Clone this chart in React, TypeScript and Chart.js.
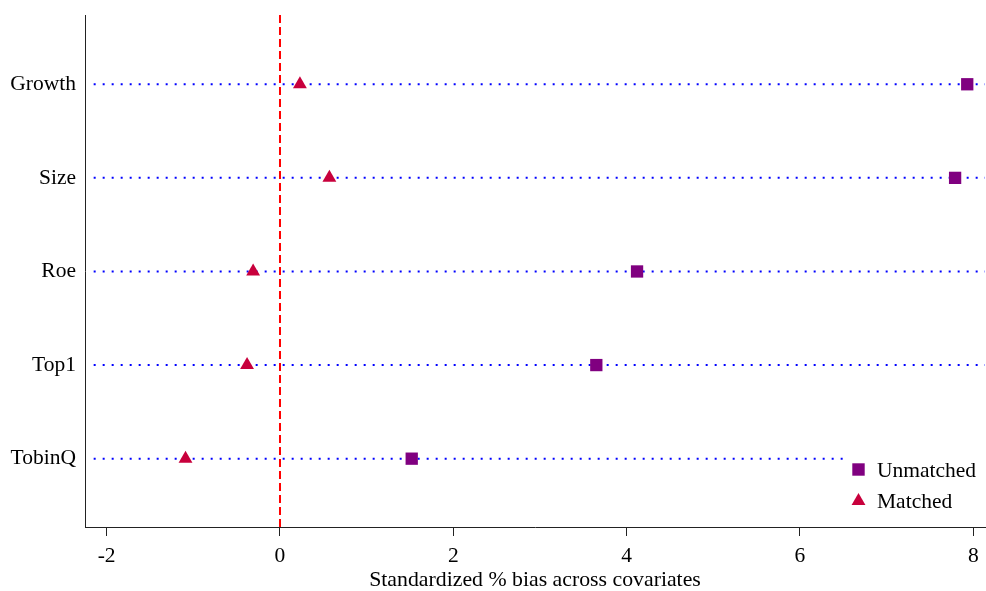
import React, { useEffect, useRef } from "react";
import { Chart, registerables } from "chart.js";

Chart.register(...registerables);

// ---- data ----
const categories = ["Growth", "Size", "Roe", "Top1", "TobinQ"];
const unmatched = [7.93, 7.79, 4.12, 3.65, 1.52];
const matched = [0.23, 0.57, -0.31, -0.38, -1.09];
const xTicks = [-2, 0, 2, 4, 6, 8];
const xMin = -2.25;
const xMax = 8.135;
const yMin = 0.27;
const yMax = 5.74;
const guideStart = -2.15;
const zeroLine = 0;
const xTitle = "Standardized % bias across covariates";
const legendLabels = ["Unmatched", "Matched"];

const FONT = "'Liberation Serif', 'Times New Roman', serif";
const PURPLE = "#800080";
const CRIMSON = "#C8003C";
const FS = 21.5;

const yOf = (i: number) => categories.length - i;

const insetLegend = {
  id: "insetLegend",
  afterDatasetsDraw(chart: any) {
    const { ctx, chartArea } = chart;
    const right = chartArea.right;
    const bottom = chartArea.bottom;
    ctx.save();
    ctx.fillStyle = "#ffffff";
    ctx.fillRect(right - 141, bottom - 75, 142, 66);
    const mx = right - 126.5;
    // square
    const sy = bottom - 57.5;
    ctx.fillStyle = PURPLE;
    ctx.fillRect(mx - 6.2, sy - 6.2, 12.4, 12.4);
    // triangle
    const ty = bottom - 26;
    const r = 8;
    ctx.fillStyle = CRIMSON;
    ctx.beginPath();
    ctx.moveTo(mx, ty - r);
    ctx.lineTo(mx + r * Math.sin((2 * Math.PI) / 3), ty + r / 2);
    ctx.lineTo(mx - r * Math.sin((2 * Math.PI) / 3), ty + r / 2);
    ctx.closePath();
    ctx.fill();
    // text
    ctx.fillStyle = "#000";
    ctx.font = `${FS}px ${FONT}`;
    ctx.textAlign = "left";
    ctx.textBaseline = "alphabetic";
    ctx.fillText(legendLabels[0], right - 108, bottom - 50);
    ctx.fillText(legendLabels[1], right - 108, bottom - 19.5);
    ctx.restore();
  },
};

const zeroPadding = (s: any) => {
  s.paddingTop = 0;
  s.paddingBottom = 0;
  s.paddingLeft = 0;
  s.paddingRight = 0;
};

export default function App() {
  const ref = useRef<HTMLCanvasElement | null>(null);

  useEffect(() => {
    if (!ref.current) return;
    Chart.defaults.font.family = FONT;

    const guides = categories.map((c, i) => ({
      type: "line" as const,
      label: "guide-" + c,
      data: [
        { x: guideStart, y: yOf(i) },
        { x: xMax, y: yOf(i) },
      ],
      borderColor: "#0000FF",
      borderWidth: 2,
      borderDash: [2, 7],
      pointRadius: 0,
      fill: false,
      order: 3,
    }));

    const chart = new Chart(ref.current, {
      type: "scatter",
      data: {
        datasets: [
          ...guides,
          {
            type: "line" as const,
            label: "zero",
            data: [
              { x: zeroLine, y: yMin },
              { x: zeroLine, y: yMax },
            ],
            borderColor: "#FF0000",
            borderWidth: 2,
            borderDash: [8, 4],
            pointRadius: 0,
            fill: false,
            order: 2,
          },
          {
            label: legendLabels[0],
            data: unmatched.map((v, i) => ({ x: v, y: yOf(i) })),
            pointStyle: "rect",
            pointRadius: 8.7,
            backgroundColor: PURPLE,
            borderColor: PURPLE,
            borderWidth: 0,
            order: 0,
          },
          {
            label: legendLabels[1],
            data: matched.map((v, i) => ({ x: v, y: yOf(i) })),
            pointStyle: "triangle",
            pointRadius: 8,
            backgroundColor: CRIMSON,
            borderColor: CRIMSON,
            borderWidth: 0,
            order: 0,
          },
        ] as any,
      },
      options: {
        animation: false,
        responsive: false,
        events: [],
        layout: { autoPadding: false, padding: { top: 15, right: 1, bottom: 0, left: 0 } },
        plugins: {
          legend: { display: false },
          tooltip: { enabled: false },
        },
        scales: {
          x: {
            type: "linear",
            position: "bottom",
            min: xMin,
            max: xMax,
            afterBuildTicks: (s: any) => {
              s.ticks = xTicks.map((v) => ({ value: v }));
            },
            afterFit: (s: any) => {
              s.height = 64;
              zeroPadding(s);
            },
            ticks: {
              color: "#000",
              font: { size: FS, family: FONT },
              padding: 7,
              maxRotation: 0,
              autoSkip: false,
              callback: (v: any) => String(v),
            },
            grid: {
              display: true,
              drawOnChartArea: false,
              drawTicks: true,
              tickLength: 9,
              color: "#222",
            },
            border: { display: true, color: "#222", width: 1 },
            title: {
              display: true,
              text: xTitle,
              color: "#000",
              font: { size: 21.8, family: FONT, lineHeight: 1 },
              padding: 0,
            },
          },
          y: {
            type: "linear",
            min: yMin,
            max: yMax,
            afterBuildTicks: (s: any) => {
              s.ticks = categories.map((_, i) => ({ value: yOf(i) }));
            },
            afterFit: (s: any) => {
              s.width = 85;
              zeroPadding(s);
            },
            ticks: {
              color: "#000",
              font: { size: FS, family: FONT },
              padding: 9,
              autoSkip: false,
              callback: (v: any) => categories[categories.length - Number(v)],
            },
            grid: { display: true, drawOnChartArea: false, drawTicks: false },
            border: { display: true, color: "#222", width: 1 },
          },
        },
      } as any,
      plugins: [insetLegend],
    });

    return () => chart.destroy();
  }, []);

  return (
    <div
      style={{
        position: "fixed",
        left: 0,
        top: 0,
        width: 986,
        height: 591,
        background: "#fff",
      }}
    >
      <canvas ref={ref} width={986} height={591} style={{ display: "block" }} />
    </div>
  );
}
